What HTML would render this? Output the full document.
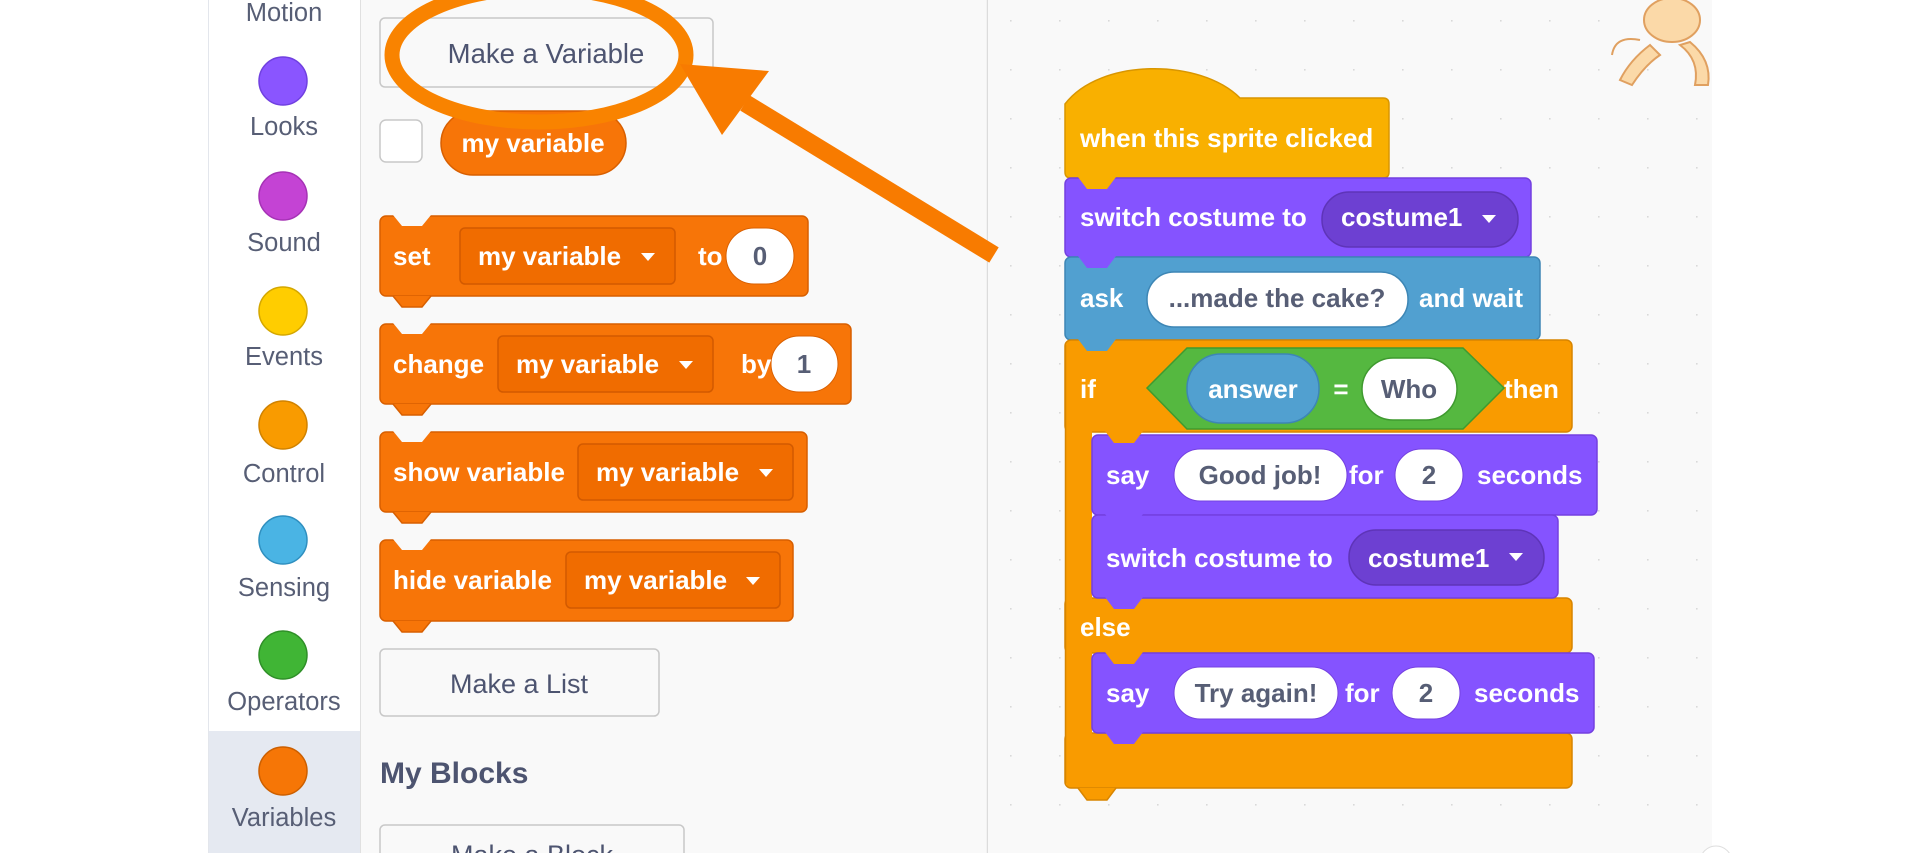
<!DOCTYPE html>
<html><head><meta charset="utf-8"><style>
html,body{margin:0;padding:0;background:#fff;}
svg{display:block;font-family:"Liberation Sans",sans-serif;}
.w{fill:#fff;font-weight:bold;font-size:26px;}
.d{fill:#575e75;font-weight:bold;font-size:26px;}
.c{fill:#575e75;font-size:25.5px;}
</style></head><body>
<svg width="1920" height="853" viewBox="0 0 1920 853" xmlns="http://www.w3.org/2000/svg">
<defs>
<pattern id="dots" x="1010" y="20" width="49" height="49" patternUnits="userSpaceOnUse">
<rect x="0" y="0" width="1.6" height="1.6" fill="#d9d9d9"/></pattern>
</defs>
<rect x="0" y="0" width="1920" height="853" fill="#fff"/>
<rect x="208" y="0" width="152" height="853" fill="#fff"/>
<line x1="208.5" y1="0" x2="208.5" y2="853" stroke="#e3e6ec"/>
<rect x="209" y="731" width="151" height="122" fill="#e5e9f1"/>
<line x1="360.5" y1="0" x2="360.5" y2="853" stroke="#e0e0e0"/>
<text class="c" x="284" y="21" text-anchor="middle">Motion</text>
<circle cx="283" cy="81" r="24" fill="#8a55ff" stroke="#7040e0" stroke-width="1.5"/>
<text class="c" x="284" y="135" text-anchor="middle">Looks</text>
<circle cx="283" cy="196" r="24" fill="#c443d4" stroke="#a532b5" stroke-width="1.5"/>
<text class="c" x="284" y="251" text-anchor="middle">Sound</text>
<circle cx="283" cy="311" r="24" fill="#ffcd00" stroke="#d4a700" stroke-width="1.5"/>
<text class="c" x="284" y="365" text-anchor="middle">Events</text>
<circle cx="283" cy="425" r="24" fill="#f99b00" stroke="#d08200" stroke-width="1.5"/>
<text class="c" x="284" y="482" text-anchor="middle">Control</text>
<circle cx="283" cy="540" r="24" fill="#4ab4e4" stroke="#2f8fbf" stroke-width="1.5"/>
<text class="c" x="284" y="596" text-anchor="middle">Sensing</text>
<circle cx="283" cy="655" r="24" fill="#40b535" stroke="#2f8f28" stroke-width="1.5"/>
<text class="c" x="284" y="710" text-anchor="middle">Operators</text>
<circle cx="283" cy="771" r="24" fill="#f67606" stroke="#cc5f00" stroke-width="1.5"/>
<text class="c" x="284" y="826" text-anchor="middle">Variables</text>

<rect x="361" y="0" width="626" height="853" fill="#f9f9f9"/>
<line x1="987.5" y1="0" x2="987.5" y2="853" stroke="#dcdcdc" stroke-width="1.5"/>
<rect x="988" y="0" width="724" height="853" fill="#f9f9f9"/>
<rect x="988" y="0" width="724" height="853" fill="url(#dots)"/>

<rect x="380" y="18" width="333" height="69" rx="5" fill="#f9f9f9" stroke="#c8c8c8" stroke-width="1.5"/>
<text x="546" y="63" text-anchor="middle" style="fill:#4d5470;font-size:27.5px;">Make a Variable</text>

<rect x="380" y="120" width="42" height="42" rx="6" fill="#fff" stroke="#c8c8c8" stroke-width="1.5"/>
<rect x="441" y="111" width="185" height="64" rx="32" fill="#f77508" stroke="#d85f00" stroke-width="1.5"/>
<text class="w" x="533" y="152" text-anchor="middle">my variable</text>

<g stroke="#d85f00" stroke-width="1.5" fill="#f77508">
<rect x="380" y="216" width="428" height="80" rx="6"/>
<rect x="380" y="324" width="471" height="80" rx="6"/>
<rect x="380" y="432" width="427" height="80" rx="6"/>
<rect x="380" y="540" width="413" height="81" rx="6"/>
</g>
<g fill="#f9f9f9">
<polygon points="393,215 402,226 422,226 431,215"/>
<polygon points="393,323 402,334 422,334 431,323"/>
<polygon points="393,431 402,442 422,442 431,431"/>
<polygon points="393,539 402,550 422,550 431,539"/>
</g>
<g fill="#f77508" stroke="#d85f00" stroke-width="1.5">
<polyline points="393,296 402,307 422,307 431,296"/>
<polyline points="393,404 402,415 422,415 431,404"/>
<polyline points="393,512 402,523 422,523 431,512"/>
<polyline points="393,621 402,632 422,632 431,621"/>
</g>
<g fill="#f06c00" stroke="#d25a00" stroke-width="1.5">
<rect x="460" y="228" width="215" height="56" rx="5"/>
<rect x="498" y="336" width="215" height="56" rx="5"/>
<rect x="578" y="444" width="215" height="56" rx="5"/>
<rect x="566" y="552" width="214" height="56" rx="5"/>
</g>
<g fill="#fff">
<rect x="726" y="228" width="68" height="56" rx="28" stroke="#d85f00"/>
<rect x="771" y="336" width="67" height="56" rx="28" stroke="#d85f00"/>
<polygon points="641,253 655,253 648,261"/>
<polygon points="679,361 693,361 686,369"/>
<polygon points="759,469 773,469 766,477"/>
<polygon points="746,577 760,577 753,585"/>
</g>
<text class="w" x="393" y="265">set</text>
<text class="w" x="478" y="265">my variable</text>
<text class="w" x="698" y="265">to</text>
<text class="d" x="760" y="265" text-anchor="middle">0</text>
<text class="w" x="393" y="373">change</text>
<text class="w" x="516" y="373">my variable</text>
<text class="w" x="741" y="373">by</text>
<text class="d" x="804" y="373" text-anchor="middle">1</text>
<text class="w" x="393" y="481">show variable</text>
<text class="w" x="596" y="481">my variable</text>
<text class="w" x="393" y="589">hide variable</text>
<text class="w" x="584" y="589">my variable</text>

<rect x="380" y="649" width="279" height="67" rx="5" fill="#f9f9f9" stroke="#c8c8c8" stroke-width="1.5"/>
<text x="519" y="693" text-anchor="middle" style="fill:#4d5470;font-size:27px;">Make a List</text>
<text x="380" y="783" style="fill:#4d5470;font-size:30px;font-weight:bold;">My Blocks</text>
<rect x="380" y="825" width="304" height="60" rx="5" fill="#f9f9f9" stroke="#c8c8c8" stroke-width="1.5"/>
<text x="532" y="864" text-anchor="middle" style="fill:#4d5470;font-size:27px;">Make a Block</text>

<g fill="#fbd9a8" stroke="#e0a060" stroke-width="2">
<ellipse cx="1672" cy="20" rx="28" ry="22"/>
<path d="M1650 45 Q1630 60 1620 80 L1632 85 Q1645 65 1660 55 Z"/>
<path d="M1680 45 Q1700 60 1695 85 L1708 85 Q1712 60 1690 42 Z"/>
<path d="M1640 40 Q1615 35 1612 55" fill="none"/>
</g>
<g fill="#fff" stroke="#ddd"><circle cx="1716" cy="862" r="16"/></g>

<path d="M1065,104 C1100,58 1200,58 1240,98 L1383,98 Q1389,98 1389,104 L1389,172 Q1389,178 1383,178 L1071,178 Q1065,178 1065,172 Z" fill="#f9b000" stroke="#d99600" stroke-width="1.5"/>
<rect x="1065" y="178" width="466" height="79" rx="6" fill="#8553ff" stroke="#7440e0" stroke-width="1.5"/>
<rect x="1065" y="257" width="475" height="83" rx="6" fill="#51a0d0" stroke="#3d86b5" stroke-width="1.5"/>
<g fill="#f99b00" stroke="#d88500" stroke-width="1.5">
<rect x="1065" y="340" width="507" height="92" rx="6"/>
<rect x="1065" y="598" width="507" height="55" rx="6"/>
<rect x="1065" y="733" width="507" height="55" rx="6"/>
</g>
<rect x="1066" y="345" width="26" height="440" fill="#f99b00"/>
<line x1="1065.5" y1="345" x2="1065.5" y2="783" stroke="#d88500" stroke-width="1.5"/>
<rect x="1092" y="435" width="505" height="80" rx="6" fill="#8553ff" stroke="#7440e0" stroke-width="1.5"/>
<rect x="1092" y="515" width="466" height="83" rx="6" fill="#8553ff" stroke="#7440e0" stroke-width="1.5"/>
<rect x="1092" y="653" width="502" height="80" rx="6" fill="#8553ff" stroke="#7440e0" stroke-width="1.5"/>
<polygon points="1078,177 1087,189 1107,189 1116,177" fill="#f9b000"/>
<polygon points="1078,256 1087,268 1107,268 1116,256" fill="#8553ff"/>
<polygon points="1078,339 1087,351 1107,351 1116,339" fill="#51a0d0"/>
<polygon points="1105,431 1114,443 1134,443 1143,431" fill="#f99b00"/>
<polygon points="1105,514 1114,526 1134,526 1143,514" fill="#8553ff"/>
<polygon points="1105,597 1114,609 1134,609 1143,597" fill="#8553ff"/>
<polygon points="1105,652 1114,664 1134,664 1143,652" fill="#f99b00"/>
<polygon points="1105,732 1114,744 1134,744 1143,732" fill="#8553ff"/>
<polyline points="1078,788 1087,800 1107,800 1116,788" fill="#f99b00" stroke="#d88500" stroke-width="1.5"/>

<rect x="1322" y="192" width="196" height="55" rx="27" fill="#6d40d2" stroke="#5e34b8" stroke-width="1.5"/>
<polygon points="1482,215 1496,215 1489,223" fill="#fff"/>
<rect x="1147" y="272" width="261" height="55" rx="27" fill="#fff" stroke="#3d86b5" stroke-width="1.5"/>
<polygon points="1147,388 1187,348 1463,348 1504,388 1463,429 1187,429" fill="#55b840" stroke="#3f9a2f" stroke-width="1.5"/>
<rect x="1187" y="354" width="132" height="69" rx="34" fill="#51a0d0" stroke="#3d86b5" stroke-width="1.5"/>
<rect x="1362" y="358" width="95" height="62" rx="31" fill="#fff" stroke="#3f9a2f" stroke-width="1.5"/>
<rect x="1174" y="449" width="173" height="52" rx="26" fill="#fff" stroke="#7440e0"/>
<rect x="1395" y="449" width="68" height="52" rx="26" fill="#fff" stroke="#7440e0"/>
<rect x="1349" y="530" width="195" height="55" rx="27" fill="#6d40d2" stroke="#5e34b8" stroke-width="1.5"/>
<polygon points="1509,553 1523,553 1516,561" fill="#fff"/>
<rect x="1174" y="667" width="164" height="52" rx="26" fill="#fff" stroke="#7440e0"/>
<rect x="1392" y="667" width="68" height="52" rx="26" fill="#fff" stroke="#7440e0"/>

<text class="w" x="1080" y="147">when this sprite clicked</text>
<text class="w" x="1080" y="226">switch costume to</text>
<text class="w" x="1341" y="226">costume1</text>
<text class="w" x="1080" y="307">ask</text>
<text class="d" x="1277" y="307" text-anchor="middle">...made the cake?</text>
<text class="w" x="1419" y="307">and wait</text>
<text class="w" x="1080" y="398">if</text>
<text class="w" x="1253" y="398" text-anchor="middle">answer</text>
<text class="w" x="1341" y="398" text-anchor="middle">=</text>
<text class="d" x="1409" y="398" text-anchor="middle">Who</text>
<text class="w" x="1504" y="398">then</text>
<text class="w" x="1106" y="484">say</text>
<text class="d" x="1260" y="484" text-anchor="middle">Good job!</text>
<text class="w" x="1349" y="484">for</text>
<text class="d" x="1429" y="484" text-anchor="middle">2</text>
<text class="w" x="1477" y="484">seconds</text>
<text class="w" x="1106" y="567">switch costume to</text>
<text class="w" x="1368" y="567">costume1</text>
<text class="w" x="1080" y="636">else</text>
<text class="w" x="1106" y="702">say</text>
<text class="d" x="1256" y="702" text-anchor="middle">Try again!</text>
<text class="w" x="1345" y="702">for</text>
<text class="d" x="1426" y="702" text-anchor="middle">2</text>
<text class="w" x="1474" y="702">seconds</text>

<ellipse cx="539" cy="55" rx="147" ry="67" fill="none" stroke="#f98300" stroke-width="15"/>
<line x1="745" y1="103" x2="994" y2="255" stroke="#f87b00" stroke-width="18"/>
<polygon points="680,64 769,71 722,135" fill="#f87b00"/>
</svg>
</body></html>
